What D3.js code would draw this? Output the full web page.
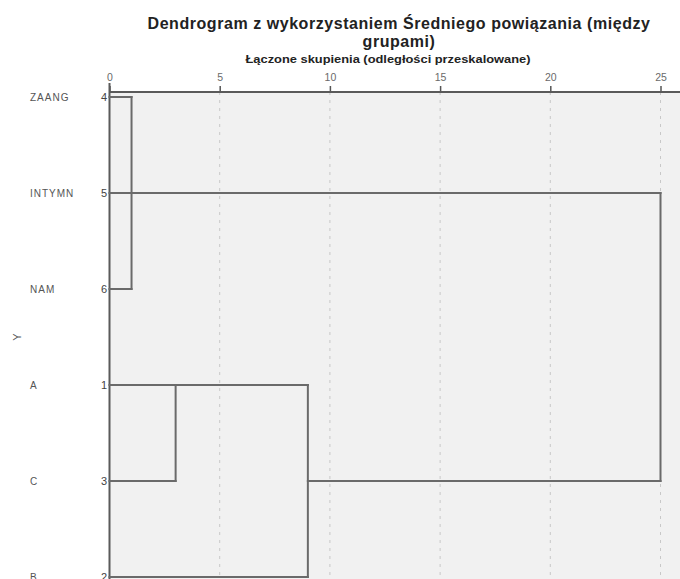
<!DOCTYPE html>
<html><head><meta charset="utf-8">
<script src="https://cdn.jsdelivr.net/npm/d3@7"></script>
<style>html,body{margin:0;padding:0;background:#fff;}svg{display:block;}</style>
</head><body>
<script>
// ---- data ----
const labels = ["ZAANG","INTYMN","NAM","A","C","B"];
const caseIds = [4,5,6,1,3,2];
const xTicks = [0,5,10,15,20,25];
const clusterNames = ["K1","K2","K3","K4"];
const clusterChildren = [["ZAANG","INTYMN","NAM"],["A","C"],["K2","B"],["K1","K3"]];
const clusterDist = [1,3,9,25];
const clusterAnchor = ["INTYMN","A","C",null];
const titleLines = ["Dendrogram z wykorzystaniem Średniego powiązania (między","grupami)"];
const axisTitle = "Łączone skupienia (odległości przeskalowane)";
const yTitle = "Y";

const W = 680, H = 579;
const svg = d3.select("body").append("svg").attr("width", W).attr("height", H);
const font = "'Liberation Sans', Arial, sans-serif";

const x = d3.scaleLinear().domain([0,25]).range([109.5,660.5]);
const y = d3.scalePoint().domain(labels).range([97,577]).padding(0);
const plotTop = 92;

// background
svg.append("rect").attr("x", x(0)).attr("y", plotTop).attr("width", W - x(0)).attr("height", H - plotTop).attr("fill", "#f1f1f1");

// grid
svg.append("g").selectAll("line").data(xTicks.filter(d => d > 0)).join("line")
  .attr("x1", d => x(d)).attr("x2", d => x(d)).attr("y1", plotTop).attr("y2", H)
  .attr("stroke", "#c8c8c8").attr("stroke-width", 1).attr("stroke-dasharray", "3,5");

// top axis
const axis = d3.axisTop(x).tickValues(xTicks).tickSize(6).tickFormat(d3.format("d"));
const ag = svg.append("g").attr("transform", `translate(0,${plotTop})`).call(axis);
ag.select(".domain").remove();
ag.selectAll(".tick line").attr("stroke", "#555").attr("stroke-width", 1.5);
ag.selectAll(".tick text").attr("font-family", font).attr("font-size", 10.5).attr("fill", "#6a6a6a").attr("y", -11).attr("dy", 0);
svg.append("line").attr("x1", x(0)).attr("x2", W).attr("y1", plotTop).attr("y2", plotTop).attr("stroke", "#5a5a5a").attr("stroke-width", 2);
svg.append("line").attr("x1", x(0)).attr("x2", x(0)).attr("y1", 83).attr("y2", H).attr("stroke", "#5a5a5a").attr("stroke-width", 2);

// titles
svg.append("g").selectAll("text").data(titleLines).join("text")
  .attr("x", 399).attr("y", (d,i) => 29 + i*18).attr("text-anchor", "middle")
  .attr("font-family", font).attr("font-weight", "bold").attr("font-size", 16).attr("letter-spacing", 0.55)
  .attr("fill", "#222").text(d => d);
svg.append("text").attr("x", 388).attr("y", 63).attr("text-anchor", "middle")
  .attr("font-family", font).attr("font-weight", "bold").attr("font-size", 10).attr("fill", "#222")
  .attr("textLength", 285).attr("lengthAdjust", "spacingAndGlyphs").text(axisTitle);
svg.append("text").attr("transform", "translate(21,337) rotate(-90)").attr("text-anchor", "middle")
  .attr("font-family", font).attr("font-size", 11).attr("fill", "#555").text(yTitle);

// row labels
svg.append("g").selectAll("text").data(labels).join("text")
  .attr("x", 30).attr("y", d => y(d)).attr("dy", "0.35em")
  .attr("font-family", font).attr("font-size", 10).attr("letter-spacing", 1).attr("fill", "#555").text(d => d);
svg.append("g").selectAll("text").data(labels).join("text")
  .attr("x", 107).attr("y", d => y(d)).attr("dy", "0.35em").attr("text-anchor", "end")
  .attr("font-family", font).attr("font-size", 11).attr("fill", "#444").text((d,i) => caseIds[i]);

// dendrogram
const nodeDist = {}; const nodeRow = {};
labels.forEach(l => { nodeDist[l] = 0; nodeRow[l] = l; });
clusterNames.forEach((c,i) => { nodeDist[c] = clusterDist[i]; nodeRow[c] = clusterAnchor[i]; });
const segs = [];
clusterNames.forEach((c,i) => {
  const kids = clusterChildren[i];
  kids.forEach(k => segs.push({x1: nodeDist[k], x2: clusterDist[i], r1: nodeRow[k], r2: nodeRow[k]}));
  const ys = kids.map(k => y(nodeRow[k]));
  segs.push({x1: clusterDist[i], x2: clusterDist[i], r1: nodeRow[kids[ys.indexOf(d3.min(ys))]], r2: nodeRow[kids[ys.indexOf(d3.max(ys))]]});
});
svg.append("g").selectAll("line").data(segs).join("line")
  .attr("x1", d => x(d.x1)).attr("x2", d => x(d.x2))
  .attr("y1", d => y(d.r1)).attr("y2", d => y(d.r2))
  .attr("stroke", "#6a6a6a").attr("stroke-width", 2).attr("stroke-linecap", "square");
</script>
</body></html>
